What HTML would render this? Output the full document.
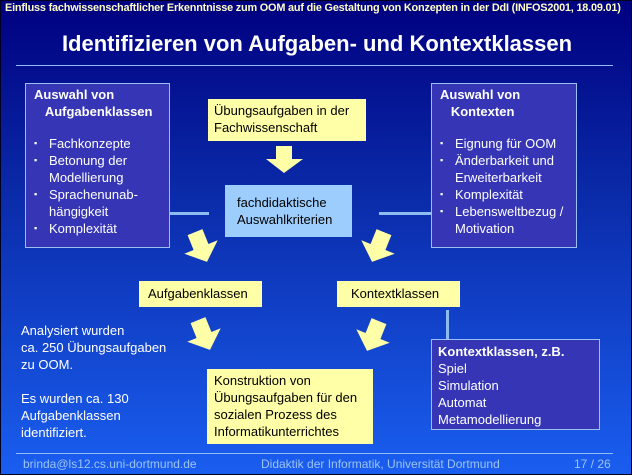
<!DOCTYPE html>
<html><head><meta charset="utf-8"><style>
*{margin:0;padding:0;box-sizing:border-box}
body{width:632px;height:475px;overflow:hidden;font-family:"Liberation Sans",Arial,sans-serif}
#s{position:relative;width:632px;height:475px;background:linear-gradient(#000080 0%,#0a2aa8 40%,#1a5ef0 100%);border:1px solid #000020;color:#fff}
.a{position:absolute;white-space:nowrap}
.box{position:absolute;border:1px solid #9bc0f0;background:#3535b5;color:#fff;font-size:13px;line-height:17px;padding:2px 8px}
.y{position:absolute;background:#ffffa8;color:#000;font-size:13px;line-height:17px}
.ln{position:absolute;background:#8fbcf0}
ul{list-style:none}
li{padding-left:15px;position:relative}
li:before{content:"▪";position:absolute;left:0;font-size:9px}
</style></head><body><div id="s">
<div class="a" style="left:4px;top:1px;font-size:11px;font-weight:bold;color:#ffffc8;transform:scaleX(0.99);transform-origin:0 0;letter-spacing:-0.2px">Einfluss fachwissenschaftlicher Erkenntnisse zum OOM auf die Gestaltung von Konzepten in der DdI (INFOS2001, 18.09.01)</div>
<div class="a" style="left:0;width:632px;text-align:center;top:30px;font-size:22px;font-weight:bold;color:#fff">Identifizieren von Aufgaben- und Kontextklassen</div>
<div class="ln" style="left:15px;top:64px;width:597px;height:1px"></div>

<div class="box" style="left:24px;top:82px;width:145px;height:165px"><b>Auswahl von<br>&nbsp;&nbsp;&nbsp;Aufgabenklassen</b><div style="height:15px"></div><ul><li>Fachkonzepte</li><li>Betonung der Modellierung</li><li>Sprachenunab-hängigkeit</li><li>Komplexität</li></ul></div>
<div class="box" style="left:430px;top:82px;width:146px;height:165px"><b>Auswahl von<br>&nbsp;&nbsp;&nbsp;Kontexten</b><div style="height:15px"></div><ul><li>Eignung für OOM</li><li>Änderbarkeit und Erweiterbarkeit</li><li>Komplexität</li><li>Lebensweltbezug / Motivation</li></ul></div>

<div class="y" style="left:207px;top:98px;width:158px;height:42px;padding:3px 6px">Übungsaufgaben in der Fachwissenschaft</div>
<div class="ln" style="left:168px;top:211px;width:40px;height:3px"></div>
<div class="ln" style="left:378px;top:211px;width:52px;height:3px"></div>
<div class="y" style="left:224px;top:184px;width:127px;height:52px;background:#9ccdfc;padding:9px 12px">fachdidaktische Auswahlkriterien</div>

<svg class="a" style="left:0;top:0" width="632" height="475">
<g fill="#ffffa8">
<polygon points="275,145 291,145 291,158 302,158 283,172 265,158 275,158"/>
<g transform="translate(200,246) rotate(-22)"><polygon points="-8,-16 8,-16 8,0 18,0 0,16 -18,0 -8,0"/></g>
<g transform="translate(377,246) rotate(22)"><polygon points="-8,-16 8,-16 8,0 18,0 0,16 -18,0 -8,0"/></g>
<g transform="translate(203,334) rotate(-22)"><polygon points="-8,-16 8,-16 8,0 18,0 0,16 -18,0 -8,0"/></g>
<g transform="translate(372,335) rotate(22)"><polygon points="-8,-16 8,-16 8,0 18,0 0,16 -18,0 -8,0"/></g>
</g></svg>

<div class="y" style="left:138px;top:280px;width:123px;height:26px;padding:4px 9px">Aufgabenklassen</div>
<div class="y" style="left:336px;top:280px;width:123px;height:26px;padding:4px 14px">Kontextklassen</div>
<div class="ln" style="left:445px;top:309px;width:3px;height:30px"></div>

<div class="a" style="left:20px;top:321px;font-size:13px;line-height:17px">Analysiert wurden<br>ca. 250 Übungsaufgaben<br>zu OOM.<br><br>Es wurden ca. 130<br>Aufgabenklassen<br>identifiziert.</div>

<div class="y" style="left:206px;top:368px;width:166px;height:75px;padding:3px 7px">Konstruktion von<br>Übungsaufgaben für den<br>sozialen Prozess des<br>Informatikunterrichtes</div>
<div class="box" style="left:430px;top:338px;width:169px;height:91px;padding:3px 6px"><b>Kontextklassen, z.B.</b><br>Spiel<br>Simulation<br>Automat<br>Metamodellierung</div>

<div class="ln" style="left:15px;top:452px;width:597px;height:1px"></div>
<div class="a" style="left:22px;top:456px;font-size:12px;color:#9cc4f4">brinda@ls12.cs.uni-dortmund.de</div>
<div class="a" style="left:260px;top:456px;font-size:12px;color:#9cc4f4">Didaktik der Informatik, Universität Dortmund</div>
<div class="a" style="left:573px;top:456px;font-size:12px;color:#9cc4f4">17 / 26</div>
</div></body></html>
